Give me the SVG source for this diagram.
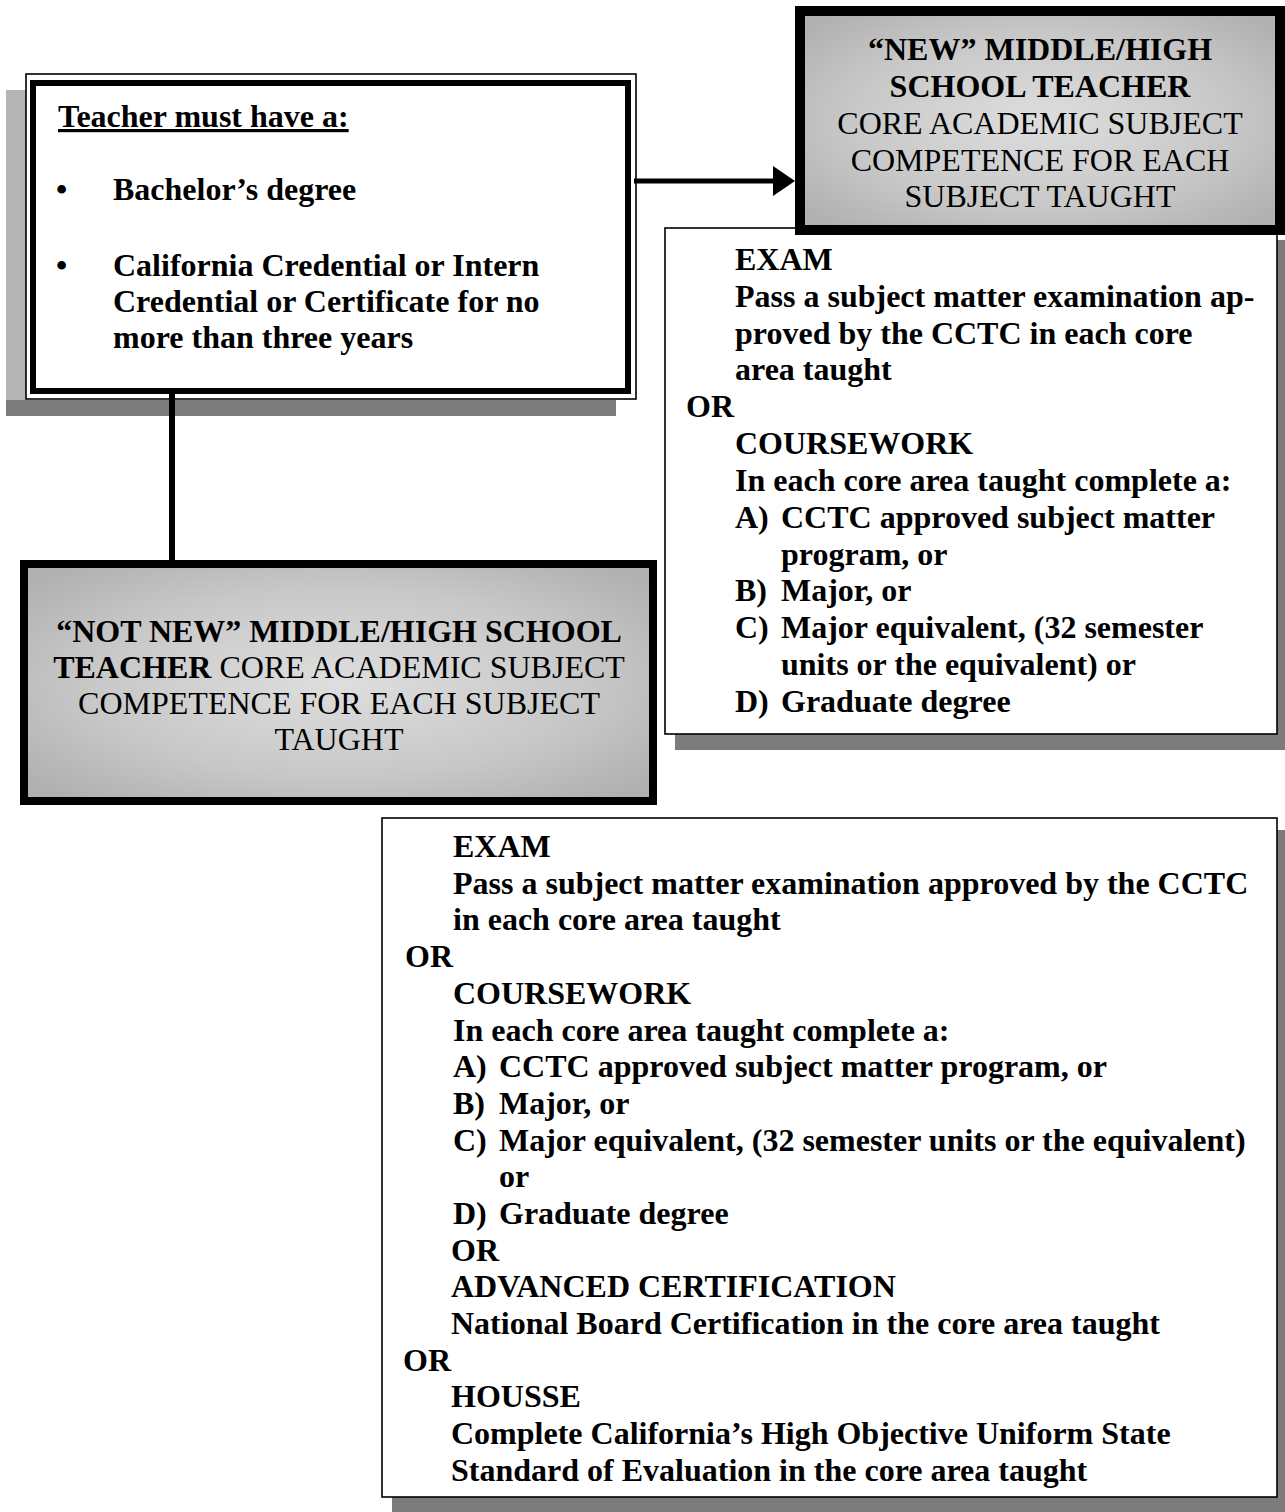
<svg xmlns="http://www.w3.org/2000/svg" width="1285" height="1512" viewBox="0 0 1285 1512">
  <defs>
    <style>
      .t { font-family: "Liberation Serif", "Times New Roman", serif; font-size: 32px; font-weight: bold; fill: #000; }
      .n { font-weight: normal; }
      .c { text-anchor: middle; }
      .panel { fill: #fff; stroke: #000; stroke-width: 1.6; }
      .shade { fill: #7c7c7c; }
      .shade-light { fill: #b4b4b4; }
      .wire { stroke: #000; fill: none; }
    </style>
    <radialGradient id="greyFill" cx="50%" cy="50%" r="65%">
      <stop offset="0" stop-color="#dedede"/>
      <stop offset="0.6" stop-color="#c8c8c8"/>
      <stop offset="1" stop-color="#b0b0b0"/>
    </radialGradient>
    <marker id="arrow" markerUnits="userSpaceOnUse" markerWidth="22" markerHeight="30" refX="2" refY="15" orient="auto">
      <path d="M0,0 L22,15 L0,30 Z" fill="#000"/>
    </marker>
  </defs>

  <rect width="1285" height="1512" fill="#fff"/>

  <!-- Requirements box -->
  <g id="node-requirements">
    <rect class="shade-light" x="6" y="90" width="20" height="326"/>
    <rect class="shade" x="6" y="400" width="610" height="16"/>
    <rect class="panel" x="26" y="74" width="610" height="325"/>
    <rect x="33" y="83" width="595" height="308" fill="#fff" stroke="#000" stroke-width="6"/>
    <text class="t" x="58" y="127" text-decoration="underline">Teacher must have a:</text>
    <text class="t" x="56" y="200">•</text>
    <text class="t" x="113" y="200">Bachelor’s degree</text>
    <text class="t" x="56" y="276">•</text>
    <text class="t" x="113" y="276">California Credential or Intern</text>
    <text class="t" x="113" y="312">Credential or Certificate for no</text>
    <text class="t" x="113" y="348">more than three years</text>
  </g>

  <!-- Options for the new teacher -->
  <g id="node-new-options">
    <rect class="shade" x="1277" y="240" width="8" height="510"/>
    <rect class="shade" x="675" y="734" width="610" height="16"/>
    <rect class="panel" x="665" y="228" width="612" height="506"/>
    <text class="t" x="735" y="270">EXAM</text>
    <text class="t" x="735" y="307">Pass a subject matter examination ap-</text>
    <text class="t" x="735" y="344">proved by the CCTC in each core</text>
    <text class="t" x="735" y="380">area taught</text>
    <text class="t" x="686" y="417">OR</text>
    <text class="t" x="735" y="454">COURSEWORK</text>
    <text class="t" x="735" y="491">In each core area taught complete a:</text>
    <text class="t" x="735" y="528">A)</text>
    <text class="t" x="781" y="528">CCTC approved subject matter</text>
    <text class="t" x="781" y="565">program, or</text>
    <text class="t" x="735" y="601">B)</text>
    <text class="t" x="781" y="601">Major, or</text>
    <text class="t" x="735" y="638">C)</text>
    <text class="t" x="781" y="638">Major equivalent, (32 semester</text>
    <text class="t" x="781" y="675">units or the equivalent) or</text>
    <text class="t" x="735" y="712">D)</text>
    <text class="t" x="781" y="712">Graduate degree</text>
  </g>

  <!-- New middle/high school teacher -->
  <g id="node-new">
    <rect x="800" y="11" width="480" height="219" fill="url(#greyFill)" stroke="#000" stroke-width="10"/>
    <text class="t c" x="1040" y="60">“NEW” MIDDLE/HIGH</text>
    <text class="t c" x="1040" y="97">SCHOOL TEACHER</text>
    <text class="t n c" x="1040" y="134">CORE ACADEMIC SUBJECT</text>
    <text class="t n c" x="1040" y="171">COMPETENCE FOR EACH</text>
    <text class="t n c" x="1040" y="207">SUBJECT TAUGHT</text>
  </g>

  <!-- Not new middle/high school teacher -->
  <g id="node-not-new">
    <rect x="24" y="564" width="629" height="237" fill="url(#greyFill)" stroke="#000" stroke-width="8"/>
    <text class="t c" x="339" y="642">“NOT NEW” MIDDLE/HIGH SCHOOL</text>
    <text class="t c" x="339" y="678">TEACHER<tspan class="n"> CORE ACADEMIC SUBJECT</tspan></text>
    <text class="t n c" x="339" y="714">COMPETENCE FOR EACH SUBJECT</text>
    <text class="t n c" x="339" y="750">TAUGHT</text>
  </g>

  <!-- Options for the not-new teacher -->
  <g id="node-not-new-options">
    <rect class="shade" x="1277" y="830" width="8" height="682"/>
    <rect class="shade" x="392" y="1497" width="893" height="15"/>
    <rect class="panel" x="382" y="818" width="895" height="679"/>
    <text class="t" x="453" y="857">EXAM</text>
    <text class="t" x="453" y="894">Pass a subject matter examination approved by the CCTC</text>
    <text class="t" x="453" y="930">in each core area taught</text>
    <text class="t" x="405" y="967">OR</text>
    <text class="t" x="453" y="1004">COURSEWORK</text>
    <text class="t" x="453" y="1041">In each core area taught complete a:</text>
    <text class="t" x="453" y="1077">A)</text>
    <text class="t" x="499" y="1077">CCTC approved subject matter program, or</text>
    <text class="t" x="453" y="1114">B)</text>
    <text class="t" x="499" y="1114">Major, or</text>
    <text class="t" x="453" y="1151">C)</text>
    <text class="t" x="499" y="1151">Major equivalent, (32 semester units or the equivalent)</text>
    <text class="t" x="499" y="1187">or</text>
    <text class="t" x="453" y="1224">D)</text>
    <text class="t" x="499" y="1224">Graduate degree</text>
    <text class="t" x="451" y="1261">OR</text>
    <text class="t" x="451" y="1297">ADVANCED CERTIFICATION</text>
    <text class="t" x="451" y="1334">National Board Certification in the core area taught</text>
    <text class="t" x="403" y="1371">OR</text>
    <text class="t" x="451" y="1407">HOUSSE</text>
    <text class="t" x="451" y="1444">Complete California’s High Objective Uniform State</text>
    <text class="t" x="451" y="1481">Standard of Evaluation in the core area taught</text>
  </g>

  <!-- Connectors -->
  <g id="connectors">
    <line class="wire" x1="172" y1="394" x2="172" y2="562" stroke-width="6"/>
    <line class="wire" x1="634" y1="181" x2="775" y2="181" stroke-width="5" marker-end="url(#arrow)"/>
  </g>
</svg>
